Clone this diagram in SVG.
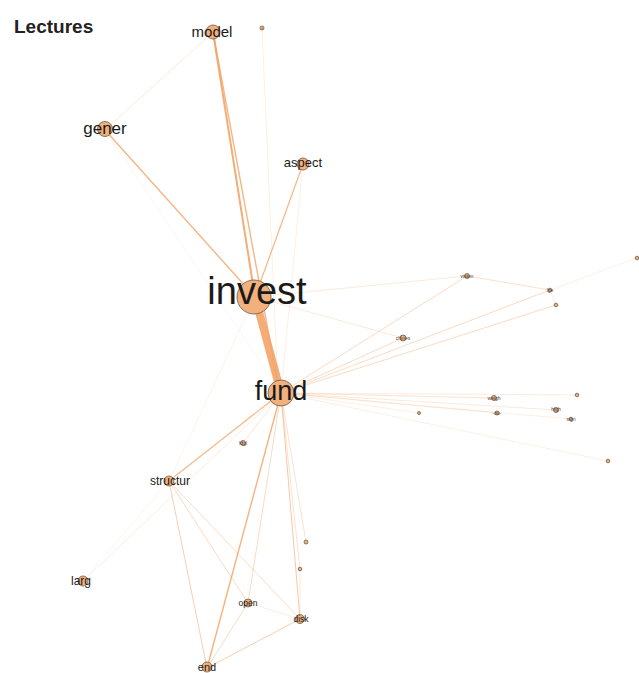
<svg xmlns="http://www.w3.org/2000/svg" width="639" height="673" viewBox="0 0 639 673">
<style>
.e{stroke:#f3a468;fill:none;stroke-linecap:round}
.n{fill:#f2b07c;stroke:#6a5a4a;stroke-width:0.8}
.t{font-family:"Liberation Sans",Arial,sans-serif;fill:#1a1a1a;text-anchor:middle}
.s{font-family:"Liberation Sans",Arial,sans-serif;fill:#444;text-anchor:middle;font-size:5px}
</style>
<rect width="639" height="673" fill="#fff"/>
<text x="14" y="33" font-family="'Liberation Sans',Arial,sans-serif" font-weight="bold" font-size="19" fill="#222">Lectures</text>
<g id="connectors">
<line class="e" x1="255" y1="297" x2="281" y2="393" stroke-width="8" opacity="0.9"/>
<line class="e" x1="213" y1="32" x2="255" y2="297" stroke-width="2" opacity="0.9"/>
<line class="e" x1="213" y1="32" x2="279" y2="390" stroke-width="1.4" opacity="0.8"/>
<line class="e" x1="105" y1="130" x2="255" y2="297" stroke-width="1.4" opacity="0.8"/>
<line class="e" x1="105" y1="130" x2="281" y2="393" stroke-width="0.5" opacity="0.2"/>
<line class="e" x1="105" y1="130" x2="213" y2="32" stroke-width="0.8" opacity="0.3"/>
<line class="e" x1="303" y1="164" x2="255" y2="297" stroke-width="1.2" opacity="0.8"/>
<line class="e" x1="303" y1="164" x2="281" y2="393" stroke-width="0.6" opacity="0.3"/>
<line class="e" x1="262" y1="28" x2="278" y2="390" stroke-width="0.6" opacity="0.3"/>
<line class="e" x1="255" y1="297" x2="467" y2="276" stroke-width="0.7" opacity="0.35"/>
<line class="e" x1="255" y1="297" x2="403" y2="338" stroke-width="0.7" opacity="0.35"/>
<line class="e" x1="281" y1="393" x2="403" y2="338" stroke-width="0.8" opacity="0.5"/>
<line class="e" x1="281" y1="393" x2="467" y2="276" stroke-width="0.8" opacity="0.5"/>
<line class="e" x1="281" y1="393" x2="550" y2="290" stroke-width="0.8" opacity="0.5"/>
<line class="e" x1="281" y1="393" x2="556" y2="305" stroke-width="0.8" opacity="0.5"/>
<line class="e" x1="467" y1="276" x2="550" y2="290" stroke-width="0.7" opacity="0.5"/>
<line class="e" x1="550" y1="290" x2="556" y2="305" stroke-width="0.6" opacity="0.4"/>
<line class="e" x1="550" y1="290" x2="637" y2="258" stroke-width="0.6" opacity="0.3"/>
<line class="e" x1="281" y1="393" x2="494" y2="398" stroke-width="0.8" opacity="0.4"/>
<line class="e" x1="281" y1="393" x2="577" y2="395" stroke-width="0.7" opacity="0.3"/>
<line class="e" x1="281" y1="393" x2="419" y2="413" stroke-width="0.6" opacity="0.3"/>
<line class="e" x1="281" y1="393" x2="497" y2="413" stroke-width="0.7" opacity="0.35"/>
<line class="e" x1="281" y1="393" x2="556" y2="410" stroke-width="0.7" opacity="0.35"/>
<line class="e" x1="281" y1="393" x2="571" y2="419" stroke-width="0.6" opacity="0.3"/>
<line class="e" x1="281" y1="393" x2="608" y2="461" stroke-width="0.6" opacity="0.3"/>
<line class="e" x1="281" y1="393" x2="243" y2="443" stroke-width="0.7" opacity="0.4"/>
<line class="e" x1="281" y1="393" x2="169" y2="481" stroke-width="1.3" opacity="0.75"/>
<line class="e" x1="255" y1="297" x2="169" y2="481" stroke-width="0.6" opacity="0.2"/>
<line class="e" x1="281" y1="393" x2="83" y2="581" stroke-width="0.7" opacity="0.3"/>
<line class="e" x1="281" y1="393" x2="207" y2="668" stroke-width="1.4" opacity="0.85"/>
<line class="e" x1="281" y1="393" x2="248" y2="603" stroke-width="0.8" opacity="0.5"/>
<line class="e" x1="281" y1="393" x2="300" y2="619" stroke-width="1" opacity="0.6"/>
<line class="e" x1="281" y1="393" x2="306" y2="542" stroke-width="0.7" opacity="0.45"/>
<line class="e" x1="281" y1="393" x2="300" y2="569" stroke-width="0.7" opacity="0.45"/>
<line class="e" x1="169" y1="481" x2="207" y2="668" stroke-width="0.9" opacity="0.6"/>
<line class="e" x1="169" y1="481" x2="248" y2="603" stroke-width="0.8" opacity="0.5"/>
<line class="e" x1="169" y1="481" x2="300" y2="619" stroke-width="0.8" opacity="0.5"/>
<line class="e" x1="169" y1="481" x2="83" y2="581" stroke-width="0.5" opacity="0.2"/>
<line class="e" x1="207" y1="668" x2="248" y2="603" stroke-width="0.8" opacity="0.5"/>
<line class="e" x1="207" y1="668" x2="300" y2="619" stroke-width="0.9" opacity="0.6"/>
<line class="e" x1="248" y1="603" x2="300" y2="619" stroke-width="0.6" opacity="0.35"/>
<line class="e" x1="300" y1="569" x2="300" y2="619" stroke-width="0.6" opacity="0.4"/>
</g>
<g id="n-model"><circle class="n" cx="213" cy="32" r="7"/><text class="t" x="212" y="37" font-size="15">model</text></g>
<g id="n-top"><circle class="n" cx="262" cy="28" r="2"/><text class="s" x="262" y="30">-</text></g>
<g id="n-gener"><circle class="n" cx="105" cy="129" r="7.5"/><text class="t" x="105" y="134" font-size="17">gener</text></g>
<g id="n-aspect"><circle class="n" cx="303" cy="164" r="6"/><text class="t" x="303" y="167" font-size="13">aspect</text></g>
<g id="n-invest"><circle class="n" cx="254" cy="297" r="17"/><text class="t" x="257" y="304" font-size="38">invest</text></g>
<g id="n-fund"><circle class="n" cx="281" cy="393" r="13"/><text class="t" x="281" y="400" font-size="27">fund</text></g>
<g id="n-chines"><circle class="n" cx="403" cy="338" r="3"/><text class="s" x="403" y="340">chines</text></g>
<g id="n-r1"><circle class="n" cx="467" cy="276" r="2.5"/><text class="s" x="467" y="278">vision</text></g>
<g id="n-r2"><circle class="n" cx="550" cy="290" r="1.8"/><text class="s" x="550" y="292">lge</text></g>
<g id="n-r3"><circle class="n" cx="556" cy="305" r="1.8"/></g>
<g id="n-r4"><circle class="n" cx="637" cy="258" r="1.8"/></g>
<g id="n-r5"><circle class="n" cx="494" cy="398" r="2.5"/><text class="s" x="494" y="400">weigh</text></g>
<g id="n-r6"><circle class="n" cx="577" cy="395" r="1.8"/></g>
<g id="n-r7"><circle class="n" cx="419" cy="413" r="1.5"/></g>
<g id="n-r8"><circle class="n" cx="497" cy="413" r="2"/><text class="s" x="497" y="415">-ou-</text></g>
<g id="n-r9"><circle class="n" cx="556" cy="410" r="2.5"/><text class="s" x="556" y="411">high</text></g>
<g id="n-r10"><circle class="n" cx="571" cy="419" r="1.8"/><text class="s" x="571" y="421">sign</text></g>
<g id="n-r11"><circle class="n" cx="608" cy="461" r="1.8"/></g>
<g id="n-l1"><circle class="n" cx="243" cy="443" r="2.5"/><text class="s" x="243" y="445">fdgl</text></g>
<g id="n-structur"><circle class="n" cx="169" cy="481" r="5"/><text class="t" x="170" y="485" font-size="12">structur</text></g>
<g id="n-larg"><circle class="n" cx="83" cy="581" r="5"/><text class="t" x="81" y="585" font-size="12">larg</text></g>
<g id="n-l2"><circle class="n" cx="306" cy="542" r="2"/></g>
<g id="n-l3"><circle class="n" cx="300" cy="569" r="1.8"/></g>
<g id="n-open"><circle class="n" cx="248" cy="603" r="4"/><text class="t" x="248" y="606" font-size="8.5">open</text></g>
<g id="n-disk"><circle class="n" cx="300" cy="619" r="4.5"/><text class="t" x="301" y="622" font-size="8.5">disk</text></g>
<g id="n-end"><circle class="n" cx="207" cy="667" r="5"/><text class="t" x="207" y="671" font-size="11">end</text></g>
</svg>
